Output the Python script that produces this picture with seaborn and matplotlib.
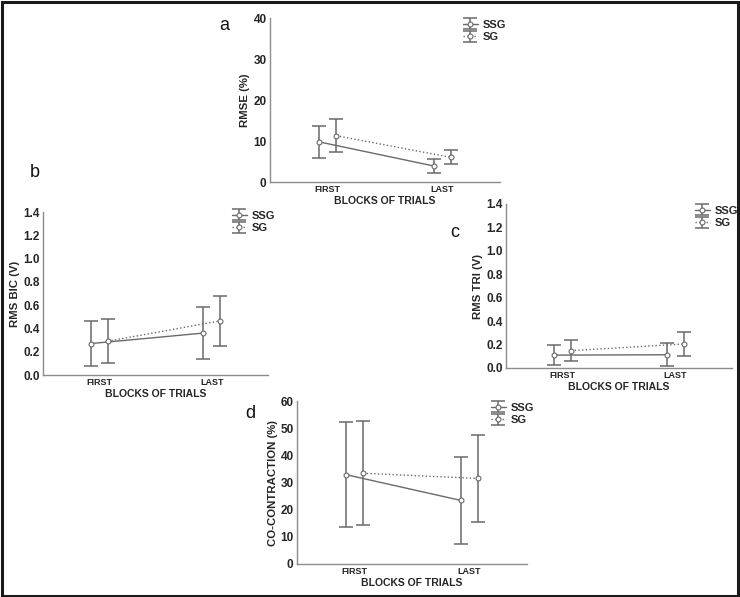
import numpy as np
import pandas as pd
import matplotlib
matplotlib.use("Agg")
import matplotlib.pyplot as plt
import seaborn as sns
from matplotlib.legend_handler import HandlerTuple
from matplotlib.patches import Rectangle

# ---------------- data ----------------
blocks = ["FIRST", "LAST"]
groups = ["SSG", "SG"]

rmse_ssg_mean = [9.8, 3.9]
rmse_ssg_err = [3.9, 1.6]
rmse_sg_mean = [11.3, 6.0]
rmse_sg_err = [4.0, 1.7]

bic_ssg_mean = [0.27, 0.36]
bic_ssg_err = [0.19, 0.22]
bic_sg_mean = [0.29, 0.465]
bic_sg_err = [0.19, 0.215]

tri_ssg_mean = [0.11, 0.113]
tri_ssg_err = [0.085, 0.10]
tri_sg_mean = [0.148, 0.205]
tri_sg_err = [0.087, 0.10]

cc_ssg_mean = [32.9, 23.4]
cc_ssg_err = [19.2, 16.1]
cc_sg_mean = [33.4, 31.5]
cc_sg_err = [19.1, 16.0]

panel_letters = ["a", "b", "c", "d"]
y_labels = ["RMSE (%)", "RMS BIC (V)", "RMS TRI (V)", "CO-CONTRACTION (%)"]
x_label = "BLOCKS OF TRIALS"

# ---------------- style ----------------
sns.set_style("white")
plt.rcParams["font.family"] = ["Liberation Sans", "DejaVu Sans"]

W, H = 740, 597
fig = plt.figure(figsize=(W / 100, H / 100), dpi=100)

LINE = "#6a6a6a"
SPINE = "#8c8c8c"


def px_rect(l, t, r, b):
    return [l / W, 1 - b / H, (r - l) / W, (b - t) / H]


panels = [
    dict(rect=(270, 18, 500, 182), ylim=(0, 40), yticks=[0, 10, 20, 30, 40], fmt="{:.0f}",
         data=(rmse_ssg_mean, rmse_ssg_err, rmse_sg_mean, rmse_sg_err),
         leg=(457, 14), letter=(224, 26)),
    dict(rect=(43, 212, 268, 375), ylim=(0, 1.4), yticks=list(np.arange(0, 1.41, 0.2)), fmt="{:.1f}",
         data=(bic_ssg_mean, bic_ssg_err, bic_sg_mean, bic_sg_err),
         leg=(226, 205), letter=(35, 172)),
    dict(rect=(506, 204, 732, 368), ylim=(0, 1.4), yticks=list(np.arange(0, 1.41, 0.2)), fmt="{:.1f}",
         data=(tri_ssg_mean, tri_ssg_err, tri_sg_mean, tri_sg_err),
         leg=(689, 200), letter=(455, 232)),
    dict(rect=(297, 401, 527, 564), ylim=(0, 60), yticks=[0, 10, 20, 30, 40, 50, 60], fmt="{:.0f}",
         data=(cc_ssg_mean, cc_ssg_err, cc_sg_mean, cc_sg_err),
         leg=(485, 397), letter=(250, 413)),
]

dodge = 0.075
xbase = np.arange(len(blocks))

for i, p in enumerate(panels):
    ax = fig.add_axes(px_rect(*p["rect"]))
    ssg_m, ssg_e, sg_m, sg_e = p["data"]
    handles = []
    for g, m, e, off, ls in [("SSG", ssg_m, ssg_e, -dodge, "-"), ("SG", sg_m, sg_e, dodge, ":")]:
        df = pd.DataFrame({"x": xbase + off, "y": m})
        sns.lineplot(data=df, x="x", y="y", ax=ax, color=LINE, linestyle=ls, lw=1.0,
                     marker="o", markersize=3.5, markerfacecolor="white",
                     markeredgecolor=LINE, markeredgewidth=0.8, legend=False, zorder=3)
        line = ax.lines[-1]
        eb = ax.errorbar(xbase + off, m, yerr=e, fmt="none", ecolor=LINE, elinewidth=1.1,
                         capsize=5, capthick=1.1, zorder=2)
        handles.append((eb, line))

    ax.set_xlim(-0.5, 1.5)
    ax.set_ylim(*p["ylim"])
    ax.set_xticks(xbase)
    ax.set_xticklabels(blocks, fontsize=6.5, fontweight="bold")
    ax.set_yticks(p["yticks"])
    ax.set_yticklabels([p["fmt"].format(v) for v in p["yticks"]], fontsize=8.5, fontweight="bold")
    ax.tick_params(axis="both", length=0, pad=2.5)
    ax.set_xlabel(x_label, fontsize=7.5, fontweight="bold", labelpad=1)
    ax.set_ylabel(y_labels[i], fontsize=8.2, fontweight="bold", labelpad=2)
    for s in ["top", "right"]:
        ax.spines[s].set_visible(False)
    for s in ["left", "bottom"]:
        ax.spines[s].set_color(SPINE)
        ax.spines[s].set_linewidth(1.0)
    ax.patch.set_alpha(0)

    lx, ly = p["leg"]
    ax.legend(handles, groups, handler_map={tuple: HandlerTuple(ndivide=1)},
              loc="upper left", bbox_to_anchor=(lx / W, 1 - ly / H),
              bbox_transform=fig.transFigure, frameon=False, borderpad=0,
              handlelength=1.35, handletextpad=0.45, labelspacing=0.25,
              prop={"size": 8, "weight": "bold"})

    tx, ty = p["letter"]
    fig.text(tx / W, 1 - ty / H, panel_letters[i], fontsize=13, ha="center", va="center",
             color="#111111")

fig.patches.append(Rectangle((1.5 / W, 1.5 / H), 1 - 3.5 / W, 1 - 3.5 / H,
                             transform=fig.transFigure, fill=False, lw=2.2, ec="#1a1a1a"))

fig.savefig("out.png", dpi=100)
